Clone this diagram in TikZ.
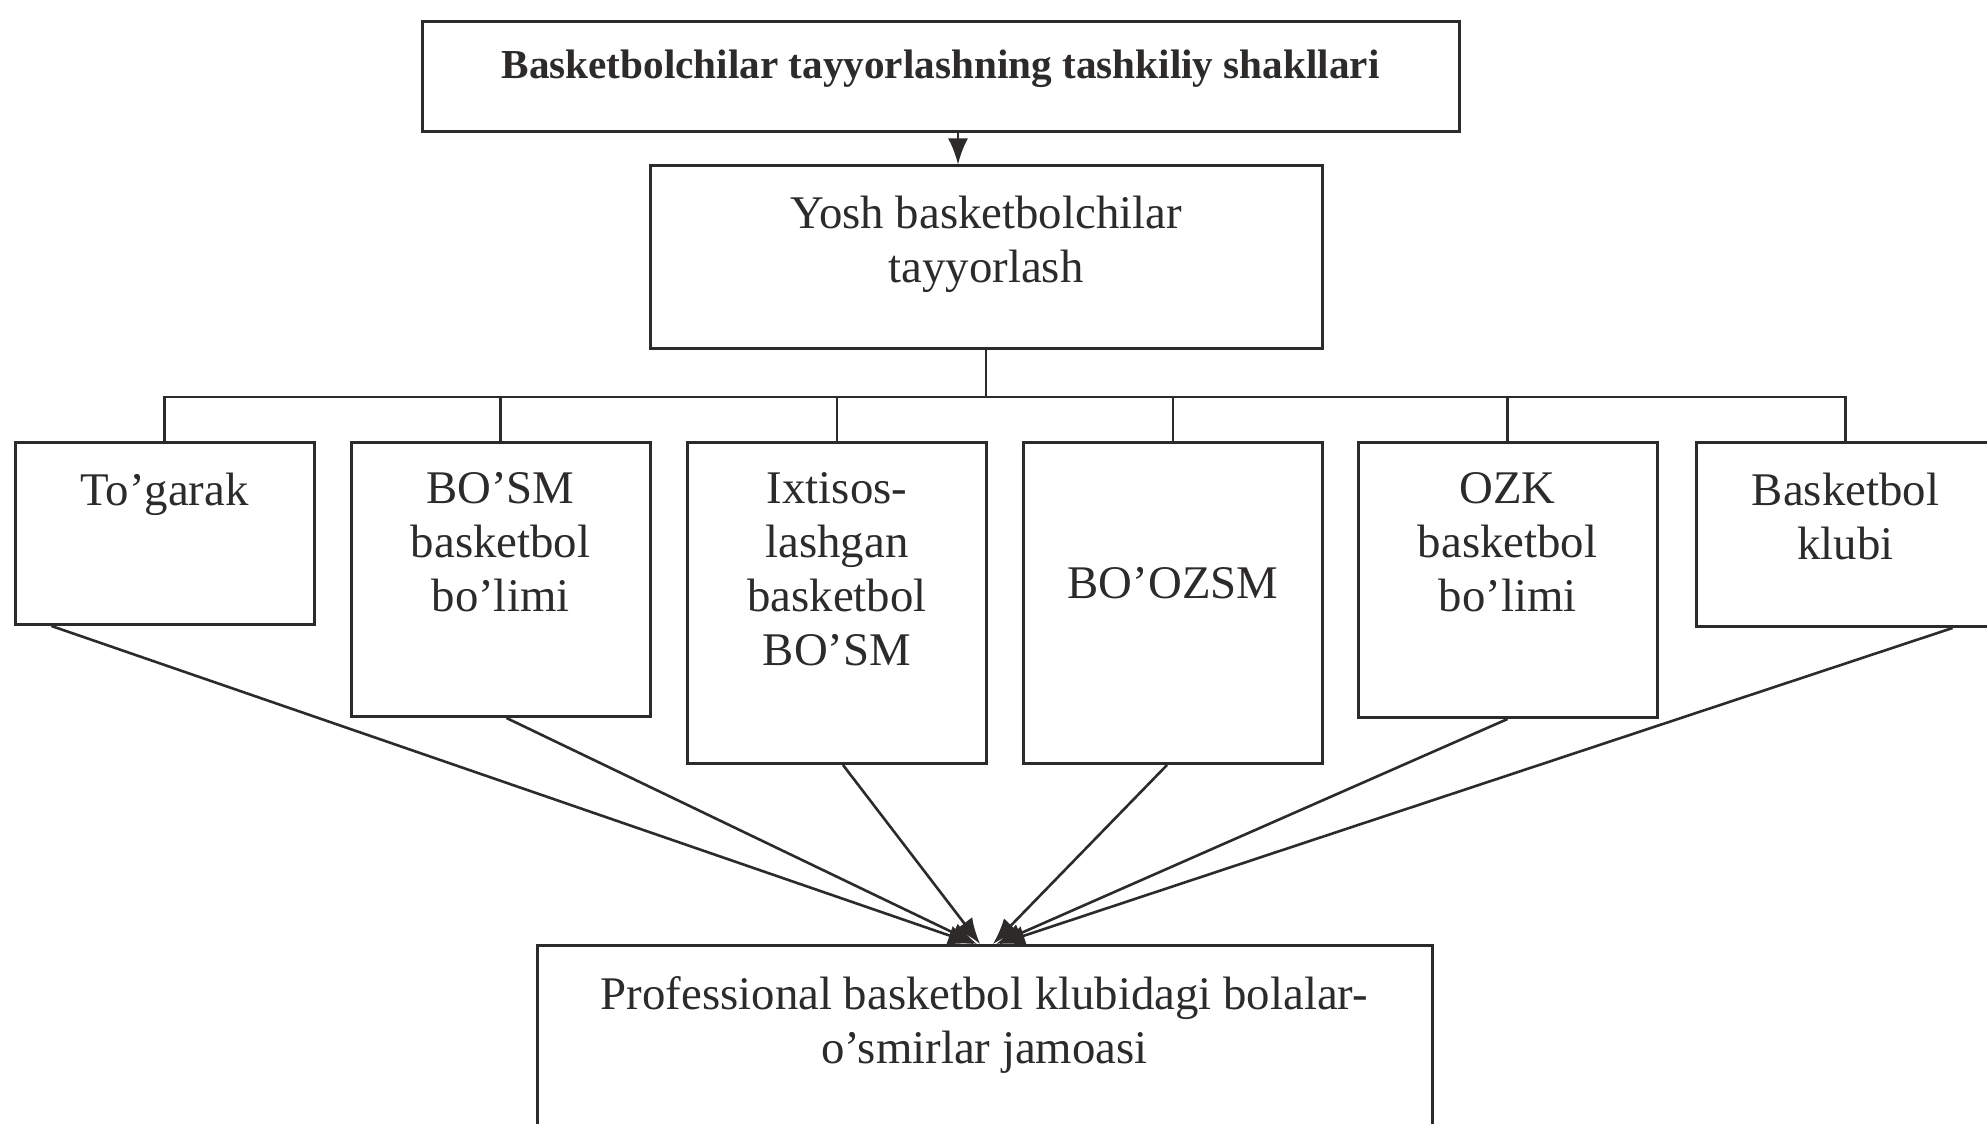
\documentclass[tikz,border=0pt]{standalone}
\usepackage{fontspec}
\setmainfont{Liberation Serif}
\usetikzlibrary{positioning,arrows.meta}
\definecolor{ink}{RGB}{45,42,42}
\tikzset{
  box/.style={draw=ink, line width=0.75pt, inner sep=0pt, minimum width=74.75pt},
  txt/.style={inner sep=0pt, align=center, text=ink, font=\fontsize{11.7}{13.5}\selectfont},
  conn/.style={draw=ink, line width=0.65pt},
  arr/.style={draw=ink, line width=0.65pt, -{Latex[length=6.5pt,width=5pt]}},
}
\begin{document}
\begin{tikzpicture}[x=0.25pt,y=-0.25pt]
\useasboundingbox[fill=white] (0,0) rectangle (1987,1123);
% boxes
\node[box, minimum width=259.25pt, minimum height=27.5pt] (title) at (940.5,77) {};
\node[box, minimum width=168pt, minimum height=45.5pt] (yosh) at (986,257) {};
\node[box, minimum height=45.5pt, anchor=north] (togarak) at (164.5,441) {};
\node[box, minimum height=68.5pt, anchor=north] (bosm) at (500.5,441) {};
\node[box, minimum height=80.25pt, anchor=north] (ixtisos) at (837,441) {};
\node[box, minimum height=80.25pt, anchor=north] (boozsm) at (1173,441) {};
\node[box, minimum height=68.75pt, anchor=north] (ozk) at (1507.5,441) {};
\node[box, minimum height=46pt, anchor=north] (klubi) at (1845.5,441) {};
\node[box, minimum width=223.75pt, minimum height=49pt, anchor=north] (prof) at (984.5,944) {};
% texts
\node[txt, font=\bfseries\fontsize{10.3}{12}\selectfont, below=7.25pt of title.north] (title-t) {Basketbolchilar tayyorlashning tashkiliy shakllari};
\node[txt, below=7.75pt of yosh.north] (yosh-t) {Yosh basketbolchilar\\tayyorlash};
\node[txt, below=7.75pt of togarak.north] (togarak-t) {To’garak};
\node[txt, below=7.75pt of bosm.north] (bosm-t) {BO’SM\\basketbol\\bo’limi};
\node[txt, below=7.75pt of ixtisos.north] (ixtisos-t) {Ixtisos-\\lashgan\\basketbol\\BO’SM};
\node[txt, below=31.5pt of boozsm.north] (boozsm-t) {BO’OZSM};
\node[txt, below=7.75pt of ozk.north] (ozk-t) {OZK\\basketbol\\bo’limi};
\node[txt, below=7.75pt of klubi.north] (klubi-t) {Basketbol\\klubi};
\node[txt, below=8pt of prof.north] (prof-t) {Professional basketbol klubidagi bolalar-\\o’smirlar jamoasi};
% connectors
\coordinate (tap) at (958,0);
\coordinate (bus) at (986,397);
\draw[arr] (title.south -| tap) -- (yosh.north -| tap);
\draw[conn] (yosh.south) -- (bus);
\draw[conn] (togarak.north) -- (togarak.north |- bus) -- (klubi.north |- bus) -- (klubi.north);
\draw[conn] (bosm.north |- bus) -- (bosm.north);
\draw[conn] (ixtisos.north |- bus) -- (ixtisos.north);
\draw[conn] (boozsm.north |- bus) -- (boozsm.north);
\draw[conn] (ozk.north |- bus) -- (ozk.north);
% arrows to the team
\draw[arr] ([xshift=9.5pt]togarak.south west) -- ([xshift=-2.6pt]prof.north);
\draw[arr] ([xshift=1.5pt]bosm.south) -- ([xshift=-1.9pt]prof.north);
\draw[arr] ([xshift=1.5pt]ixtisos.south) -- ([xshift=-1.1pt]prof.north);
\draw[arr] ([xshift=-1.5pt]boozsm.south) -- ([xshift=2.1pt]prof.north);
\draw[arr] (ozk.south) -- ([xshift=2.9pt]prof.north);
\draw[arr] ([xshift=-11pt]klubi.south east) -- ([xshift=3.6pt]prof.north);
\end{tikzpicture}
\end{document}
